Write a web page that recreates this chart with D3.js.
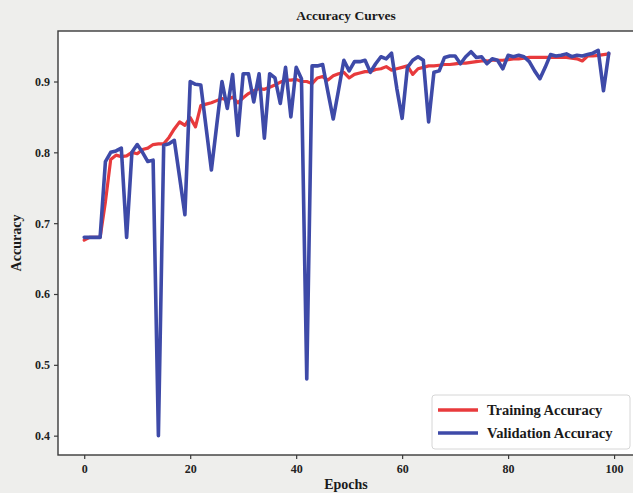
<!DOCTYPE html>
<html>
<head>
<meta charset="utf-8">
<script src="https://cdn.jsdelivr.net/npm/d3@7"></script>
<style>
  html, body { margin: 0; padding: 0; background: #eeeeec; }
  svg { display: block; font-family: "Liberation Serif", "Times New Roman", serif; font-weight: bold; }
</style>
</head>
<body>
<svg id="chart" width="633" height="493"></svg>
<script>
// Per-epoch accuracy for the training and validation runs
const epochs = d3.range(0, 100);

const trainAcc = [
  0.676, 0.680, 0.680, 0.680, 0.730, 0.790, 0.796, 0.794, 0.795, 0.800,
  0.798, 0.804, 0.806, 0.811, 0.812, 0.812, 0.821, 0.833, 0.843, 0.838,
  0.849, 0.836, 0.866, 0.868, 0.870, 0.873, 0.876, 0.874, 0.878, 0.870,
  0.877, 0.883, 0.887, 0.890, 0.889, 0.892, 0.895, 0.899, 0.902, 0.902,
  0.903, 0.900, 0.900, 0.897, 0.905, 0.907, 0.902, 0.908, 0.911, 0.913,
  0.905, 0.910, 0.912, 0.914, 0.914, 0.917, 0.918, 0.921, 0.916, 0.918,
  0.920, 0.922, 0.910, 0.918, 0.920, 0.922, 0.922, 0.923, 0.924, 0.924,
  0.925, 0.926, 0.926, 0.927, 0.928, 0.929, 0.929, 0.930, 0.930, 0.930,
  0.931, 0.932, 0.932, 0.933, 0.934, 0.934, 0.934, 0.934, 0.934, 0.934,
  0.934, 0.934, 0.933, 0.932, 0.929, 0.936, 0.936, 0.937, 0.938, 0.939
];

const valAcc = [
  0.680, 0.680, 0.680, 0.680, 0.787, 0.800, 0.802, 0.806, 0.680, 0.800,
  0.811, 0.800, 0.787, 0.789, 0.400, 0.810, 0.812, 0.817, 0.765, 0.712,
  0.900, 0.896, 0.895, 0.835, 0.775, 0.838, 0.900, 0.862, 0.910, 0.824,
  0.911, 0.911, 0.871, 0.911, 0.820, 0.911, 0.905, 0.869, 0.920, 0.850,
  0.920, 0.904, 0.480, 0.922, 0.922, 0.924, 0.885, 0.847, 0.888, 0.930,
  0.915, 0.928, 0.928, 0.930, 0.913, 0.925, 0.935, 0.932, 0.940, 0.890,
  0.848, 0.920, 0.930, 0.935, 0.930, 0.843, 0.913, 0.915, 0.934, 0.936,
  0.936, 0.925, 0.935, 0.942, 0.934, 0.935, 0.925, 0.932, 0.930, 0.918,
  0.937, 0.935, 0.937, 0.935, 0.928, 0.915, 0.904, 0.920, 0.938, 0.936,
  0.937, 0.939, 0.935, 0.937, 0.936, 0.938, 0.940, 0.944, 0.887, 0.940
];

const xTicks = [0, 20, 40, 60, 80, 100];
const yTicks = [0.4, 0.5, 0.6, 0.7, 0.8, 0.9];

const seriesNames = ["Training Accuracy", "Validation Accuracy"];
const seriesColors = ["#e83a3c", "#3e4aa8"];

const svg = d3.select("#chart");
const plot = { left: 58, top: 31, right: 635, bottom: 455 };

const x = d3.scaleLinear().domain([-4.95, 103.95]).range([plot.left, plot.right]);
const y = d3.scaleLinear().domain([0.3727, 0.9713]).range([plot.bottom, plot.top]);

// plotting area
svg.append("rect")
  .attr("x", plot.left).attr("y", plot.top)
  .attr("width", plot.right - plot.left).attr("height", plot.bottom - plot.top)
  .attr("fill", "#ffffff");

const line = d3.line().x((d, i) => x(epochs[i])).y(d => y(d));

svg.append("path").datum(trainAcc)
  .attr("d", line).attr("fill", "none")
  .attr("stroke", seriesColors[0]).attr("stroke-width", 3.2)
  .attr("stroke-linejoin", "round").attr("stroke-linecap", "round");

svg.append("path").datum(valAcc)
  .attr("d", line).attr("fill", "none")
  .attr("stroke", seriesColors[1]).attr("stroke-width", 3.6)
  .attr("stroke-linejoin", "round").attr("stroke-linecap", "round");

// frame
svg.append("rect")
  .attr("x", plot.left).attr("y", plot.top)
  .attr("width", plot.right - plot.left).attr("height", plot.bottom - plot.top)
  .attr("fill", "none").attr("stroke", "#3a3a3a").attr("stroke-width", 1.4);

// axes
const xAxis = d3.axisBottom(x).tickValues(xTicks).tickSize(4).tickPadding(5)
  .tickFormat(d3.format("d"));
const yAxis = d3.axisLeft(y).tickValues(yTicks).tickSize(4).tickPadding(4)
  .tickFormat(d3.format(".1f"));

const gx = svg.append("g").attr("transform", `translate(0,${plot.bottom})`).call(xAxis);
const gy = svg.append("g").attr("transform", `translate(${plot.left},0)`).call(yAxis);
[gx, gy].forEach(g => {
  g.select(".domain").remove();
  g.selectAll(".tick line").attr("stroke", "#3a3a3a").attr("stroke-width", 1.2);
  g.selectAll(".tick text")
    .attr("fill", "#222")
    .style("font-family", "Liberation Serif, serif")
    .style("font-weight", "bold")
    .style("font-size", "12px");
});

// title and axis labels
svg.append("text").attr("x", 346).attr("y", 20)
  .attr("text-anchor", "middle").attr("fill", "#1a1a1a")
  .style("font-size", "13.5px").text("Accuracy Curves");

svg.append("text").attr("x", 346).attr("y", 489)
  .attr("text-anchor", "middle").attr("fill", "#1a1a1a")
  .style("font-size", "14px").text("Epochs");

svg.append("text")
  .attr("transform", `translate(21,${(plot.top + plot.bottom) / 2}) rotate(-90)`)
  .attr("text-anchor", "middle").attr("fill", "#1a1a1a")
  .style("font-size", "14px").text("Accuracy");

// legend
const lg = svg.append("g").attr("transform", "translate(432,395)");
lg.append("rect").attr("width", 198).attr("height", 54).attr("rx", 3)
  .attr("fill", "#ffffff").attr("stroke", "#d6d6d6").attr("stroke-width", 1);
seriesNames.forEach((name, i) => {
  const yy = 15 + i * 23;
  lg.append("line").attr("x1", 6).attr("x2", 46).attr("y1", yy).attr("y2", yy)
    .attr("stroke", seriesColors[i]).attr("stroke-width", 3.6);
  lg.append("text").attr("x", 55).attr("y", yy + 5)
    .attr("fill", "#1a1a1a").style("font-size", "14.5px").text(name);
});
</script>
</body>
</html>
